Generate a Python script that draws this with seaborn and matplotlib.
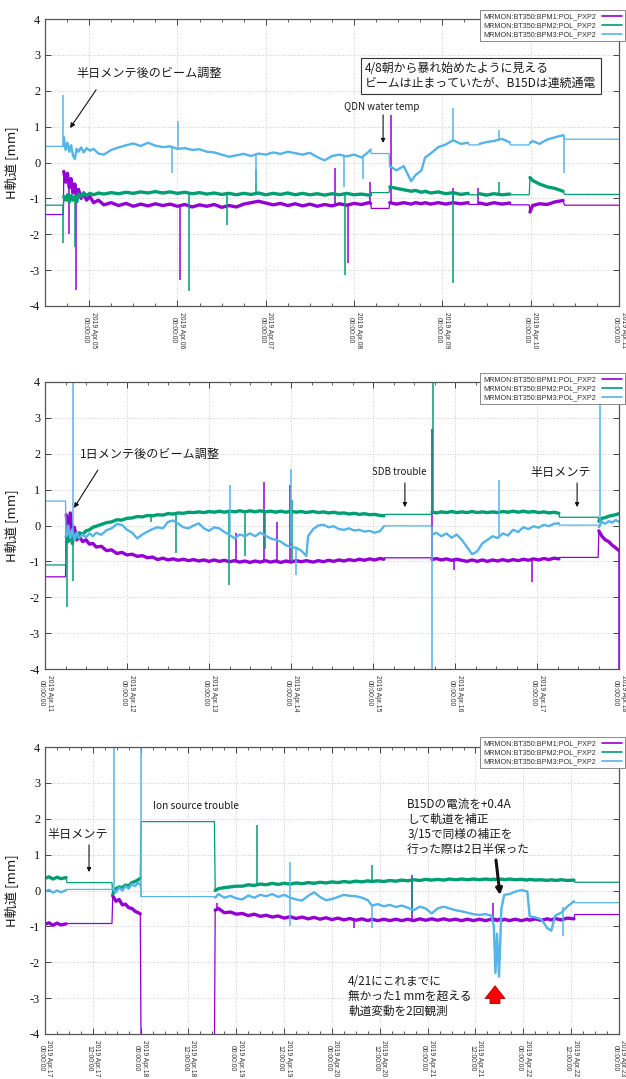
import numpy as np
import pandas as pd
import matplotlib
matplotlib.use("Agg")
import matplotlib.pyplot as plt
import matplotlib.dates as mdates
from matplotlib.lines import Line2D
import seaborn as sns

# ---------------- data ----------------
SERIES = ["MRMON:BT350:BPM1:POL_PXP2", "MRMON:BT350:BPM2:POL_PXP2", "MRMON:BT350:BPM3:POL_PXP2"]
COLORS = ["#9400d3", "#009e73", "#56b4e9"]

# Panel 1 : hours from 2019-04-04 12:00
p1_start, p1_end = "2019-04-04 12:00", "2019-04-11 00:00"
p1_hours = [0, 5.0, 5.1, 5.6, 6.1, 6.6, 7.1, 7.6, 8.1, 8.6, 9.1, 9.8, 10.5, 11.3, 12.2, 13.2, 14.5,
            16, 18, 20, 22, 24, 26, 28, 30, 32, 34, 36, 38, 40, 42, 44, 46, 48, 50, 52,
            54, 56, 58, 60, 62, 64, 66, 68, 70, 72, 74, 76, 78, 80, 82, 84, 86, 88,
            88.5, 88.7, 93.5, 93.7, 95.5, 97.5, 99.5, 100.7, 102.3, 103.3, 104.8, 106.9, 108.9, 110.9, 113, 115,
            115.2, 117.8, 118.1, 120, 122, 124.2, 126.3, 126.5, 131.6, 131.8, 132.5, 134.4, 136.5, 138.5, 140.8, 141.2, 156]
p1_bpm1 = [-1.45, -1.45, -0.25, -0.55, -0.3, -0.7, -0.45, -0.85, -0.6, -0.95, -0.75, -1.0, -0.85, -1.05, -0.95, -1.12, -1.05,
           -1.18, -1.12, -1.2, -1.14, -1.22, -1.16, -1.21, -1.15, -1.2, -1.16, -1.22, -1.17, -1.24, -1.18, -1.22, -1.17, -1.25, -1.2, -1.24,
           -1.16, -1.12, -1.08, -1.13, -1.18, -1.14, -1.2, -1.15, -1.21, -1.16, -1.22, -1.17, -1.21, -1.15, -1.19, -1.14, -1.17, -1.12,
           -1.14, -1.28, -1.28, -1.12, -1.16, -1.12, -1.16, -1.12, -1.15, -1.12, -1.16, -1.12, -1.16, -1.12, -1.15, -1.12,
           -1.17, -1.17, -1.13, -1.17, -1.12, -1.16, -1.13, -1.18, -1.18, -1.38, -1.2, -1.15, -1.17, -1.1, -1.06, -1.19, -1.19]
p1_bpm2 = [-1.19, -1.19, -0.95, -1.05, -0.9, -1.1, -0.92, -1.05, -0.95, -1.1, -0.88, -0.95, -0.85, -0.92, -0.86, -0.9, -0.85,
           -0.88, -0.84, -0.87, -0.83, -0.86, -0.82, -0.85, -0.81, -0.85, -0.82, -0.86, -0.83, -0.87, -0.84, -0.88, -0.85, -0.89, -0.86, -0.9,
           -0.86, -0.89, -0.85, -0.9, -0.86, -0.89, -0.85, -0.9, -0.86, -0.9, -0.87, -0.91, -0.87, -0.9, -0.86, -0.9, -0.88, -0.91,
           -0.9, -0.84, -0.84, -0.68, -0.72, -0.76, -0.8, -0.78, -0.83, -0.8, -0.85, -0.82, -0.87, -0.84, -0.89, -0.86,
           -0.9, -0.9, -0.87, -0.91, -0.87, -0.9, -0.88, -0.9, -0.9, -0.42, -0.5, -0.6, -0.68, -0.72, -0.8, -0.89, -0.89]
p1_bpm3 = [0.45, 0.45, 0.72, 0.35, 0.55, 0.3, 0.48, 0.2, 0.1, 0.38, 0.3, 0.42, 0.28, 0.4, 0.33, 0.38, 0.25,
           0.22, 0.35, 0.42, 0.48, 0.53, 0.46, 0.55, 0.47, 0.43, 0.45, 0.38, 0.4, 0.35, 0.37, 0.3, 0.28, 0.22, 0.16, 0.2,
           0.24, 0.18, 0.25, 0.22, 0.28, 0.24, 0.3, 0.26, 0.22, 0.27, 0.15, 0.06, 0.18, 0.22, 0.17, 0.22, 0.14, 0.3,
           0.36, 0.25, 0.25, -0.1, -0.22, -0.1, -0.52, -0.35, -0.22, 0.14, 0.25, 0.43, 0.5, 0.62, 0.52, 0.55,
           0.49, 0.49, 0.52, 0.57, 0.6, 0.66, 0.56, 0.49, 0.49, 0.55, 0.6, 0.52, 0.64, 0.7, 0.76, 0.65, 0.65]
p1_gaps = [(0, 5.0), (88.7, 93.5), (115.2, 117.8), (126.5, 131.6), (141.2, 156)]
# spikes: (hour, from, to)
p1_spk_bpm1 = [(6.5, -0.7, -2.0), (8.4, -0.9, -3.55), (36.6, -1.2, -3.27), (78.8, -1.17, -0.16),
               (82.4, -1.19, -2.8), (88.4, -1.14, -0.55), (94.1, -1.12, 1.32), (111.0, -1.12, -0.7), (117.6, -1.17, -0.72)]
p1_spk_bpm2 = [(4.9, -1.19, -2.25), (8.2, -1.0, -2.35), (39.2, -0.86, -3.57), (49.4, -0.86, -1.75),
               (57.4, -0.86, -0.2), (81.6, -0.87, -3.14), (111.0, -0.86, -3.35), (123.4, -0.88, -0.55)]
p1_spk_bpm3 = [(5.0, 0.45, 1.88), (34.4, 0.45, -0.3), (36.2, 0.4, 1.16), (57.4, 0.24, -0.6), (81.3, 0.2, -0.68),
               (86.4, 0.14, -0.45), (111.0, 0.62, 1.52), (123.4, 0.62, 0.9), (141.1, 0.76, -0.3)]

# Panel 2 : hours from 2019-04-11 00:00
p2_start, p2_end = "2019-04-11 00:00", "2019-04-18 00:00"
p2_hours = [0, 6.0, 6.2, 6.8, 7.4, 8.0, 8.6, 9.3, 10.0, 11, 12, 13, 14, 15, 16.5, 18, 19.5, 21, 22.5, 24,
            25.5, 27, 28.5, 30, 31.5, 33, 34.5, 36, 37.5, 39, 40.5, 42, 43.5, 45, 46.5, 48, 49.5, 51, 52.5, 54,
            55.5, 57, 58.5, 60, 61.5, 63, 64.5, 66, 67.5, 69, 70.5, 72, 73.5, 75, 76.5, 77, 78.5, 80, 81.5, 83,
            84.5, 86, 87.5, 89, 90.5, 92, 93.5, 95, 96.5, 98, 99.2, 99.4, 113.0, 113.3, 114.5, 116, 117.5, 119, 120.5, 122,
            123.5, 125, 126.5, 128, 129.5, 131, 132.5, 134, 135.5, 137, 138.5, 140, 141.5, 143, 144.5, 146, 147.5, 149, 150.4, 150.6,
            161.9, 162.1, 163, 164, 165, 166, 167, 168]
p2_bpm1 = [-1.43, -1.43, 0.3, -0.1, 0.35, -0.3, -0.05, -0.4, -0.3, -0.45, -0.4, -0.52, -0.5, -0.6, -0.58, -0.7, -0.68, -0.78, -0.75, -0.82,
           -0.8, -0.86, -0.84, -0.9, -0.88, -0.95, -0.91, -0.96, -0.93, -0.97, -0.94, -0.98, -0.95, -0.99, -0.96, -1.0, -0.96, -1.0, -0.97, -1.01,
           -0.98, -1.02, -0.99, -1.03, -0.99, -1.02, -0.98, -1.02, -0.99, -1.03, -0.99, -1.02, -0.98, -1.01, -0.98, -0.99, -1.02, -0.98, -1.01, -0.97,
           -1.0, -0.96, -0.99, -0.95, -0.98, -0.94, -0.97, -0.93, -0.96, -0.92, -0.94, -0.9, -0.9, -0.95, -0.92, -0.96, -0.93, -0.97, -0.94, -0.97,
           -1.0, -0.96, -1.0, -0.96, -1.0, -0.96, -0.99, -0.95, -0.99, -0.95, -0.98, -0.94, -0.97, -0.93, -0.96, -0.92, -0.95, -0.91, -0.93, -0.89,
           -0.89, -0.15, -0.3, -0.4, -0.45, -0.55, -0.62, -0.7]
p2_bpm2 = [-1.1, -1.1, -0.3, -0.45, -0.2, -0.5, -0.25, -0.35, -0.2, -0.25, -0.15, -0.12, -0.05, -0.02, 0.03, 0.08, 0.1, 0.16, 0.15, 0.2,
           0.21, 0.25, 0.24, 0.28, 0.27, 0.3, 0.29, 0.33, 0.32, 0.35, 0.34, 0.37, 0.36, 0.38, 0.36, 0.39, 0.37, 0.4, 0.37, 0.4,
           0.38, 0.41, 0.38, 0.41, 0.38, 0.41, 0.38, 0.4, 0.37, 0.4, 0.37, 0.4, 0.37, 0.39, 0.36, 0.37, 0.39, 0.36, 0.38, 0.35,
           0.37, 0.34, 0.35, 0.32, 0.34, 0.31, 0.33, 0.3, 0.31, 0.28, 0.27, 0.31, 0.31, 0.38, 0.35, 0.38, 0.36, 0.39, 0.36, 0.38,
           0.36, 0.39, 0.36, 0.38, 0.36, 0.38, 0.36, 0.39, 0.37, 0.4, 0.37, 0.4, 0.37, 0.39, 0.36, 0.38, 0.35, 0.37, 0.34, 0.23,
           0.23, 0.12, 0.2, 0.22, 0.26, 0.28, 0.3, 0.33]
p2_bpm3 = [0.68, 0.68, -0.3, 0.0, -0.35, -0.1, -0.4, -0.2, -0.35, -0.25, -0.33, -0.22, -0.3, -0.2, -0.26, -0.13, -0.08, 0.04, 0.02, -0.12,
           -0.2, -0.36, -0.25, -0.17, -0.1, -0.05, -0.08, 0.1, 0.14, 0.05, -0.05, -0.08, 0.0, 0.06, -0.08, -0.15, -0.05, -0.08, -0.18, -0.26,
           -0.36, -0.25, -0.3, -0.22, -0.3, -0.2, -0.28, -0.36, -0.4, -0.45, -0.55, -0.6, -0.62, -0.7, -0.85, -0.3, -0.1, 0.0, 0.02, -0.05,
           -0.02, -0.1, -0.12, -0.08, -0.14, -0.12, -0.17, -0.15, -0.2, -0.16, -0.02, -0.01, -0.01, -0.26, -0.2, -0.3, -0.22, -0.34, -0.25, -0.4,
           -0.6, -0.8, -0.72, -0.5, -0.4, -0.3, -0.35, -0.22, -0.28, -0.12, -0.18, -0.05, -0.1, -0.02, -0.06, 0.02, -0.02, 0.05, 0.06, 0.01,
           0.01, -0.05, 0.1, 0.05, 0.12, 0.08, 0.15, 0.1]
p2_gaps = [(0, 6.0), (99.4, 113.0), (150.6, 161.9)]
p2_spk_bpm1 = [(56.0, -0.98, -0.2), (64.0, -0.98, 1.22), (67.9, -0.99, 0.1), (71.7, -1.0, 1.13), (113.4, -0.9, 2.7),
               (119.6, -0.97, -1.25), (142.6, -0.95, -1.57), (167.9, -0.7, -4.3)]
p2_spk_bpm2 = [(6.3, -0.3, -2.26), (8.3, -0.4, -1.55), (31.0, 0.27, 0.1), (38.2, 0.33, -0.78), (53.9, 0.38, -1.66),
               (58.5, 0.39, -0.85), (64.3, 0.4, -0.65), (72.3, -1.0, 0.71), (113.6, 0.35, 4.3)]
p2_spk_bpm3 = [(8.2, -0.1, 4.3), (54.1, -0.2, 1.13), (72.0, -0.5, 1.57), (73.6, -0.6, -1.38), (113.2, -0.01, -4.3),
               (133.0, -0.3, 1.27), (162.3, 0.0, 4.3)]

# Panel 3 : hours from 2019-04-17 00:00
p3_start, p3_end = "2019-04-17 00:00", "2019-04-23 00:00"
p3_hours = [0, 1, 2, 3, 4, 5.3, 5.5, 16.8, 17.0, 17.8, 18.6, 19.4, 20.2, 21, 21.8, 22.6, 23.4, 23.9, 24.1, 42.5,
            42.7, 43.5, 45, 46.5, 48, 49.5, 51, 52.5, 54, 55.5, 57, 58.5, 60, 61.5, 63, 64.5, 66, 67.5, 69, 70.5,
            72, 73.5, 75, 76.5, 78, 79.5, 81, 82, 83.5, 85, 86.5, 88, 89.5, 91, 92.5, 94, 95.5, 97, 98.5, 100,
            101.5, 103, 104.5, 106, 107.5, 109, 110.5, 112, 112.6, 113.0, 113.4, 113.9, 114.5, 115.2, 116.5, 118, 119.5, 121, 121.6, 123,
            124.5, 126, 127, 128, 129.5, 131, 132.7, 132.9, 144]
p3_bpm1 = [-0.94, -0.9, -0.97, -0.91, -0.96, -0.93, -0.92, -0.92, -0.15, -0.3, -0.25, -0.4, -0.38, -0.48, -0.5, -0.58, -0.62, -0.65, -4.5, -4.5,
           -0.55, -0.5, -0.62, -0.6, -0.66, -0.64, -0.7, -0.66, -0.72, -0.69, -0.74, -0.71, -0.77, -0.73, -0.78, -0.74, -0.79, -0.75, -0.8, -0.76,
           -0.81, -0.77, -0.82, -0.78, -0.83, -0.79, -0.84, -0.8, -0.84, -0.8, -0.84, -0.8, -0.84, -0.8, -0.84, -0.79, -0.83, -0.79, -0.83, -0.79,
           -0.83, -0.8, -0.84, -0.8, -0.84, -0.8, -0.84, -0.8, -0.83, -0.8, -0.84, -0.8, -0.84, -0.8, -0.84, -0.8, -0.84, -0.8, -0.83, -0.79,
           -0.83, -0.79, -0.82, -0.78, -0.82, -0.77, -0.79, -0.67, -0.67]
p3_bpm2 = [0.34, 0.38, 0.32, 0.37, 0.33, 0.36, 0.22, 0.22, -0.1, 0.05, 0.1, 0.08, 0.15, 0.13, 0.22, 0.25, 0.3, 0.34, 1.92, 1.92,
           0.0, 0.05, 0.08, 0.1, 0.12, 0.12, 0.16, 0.14, 0.18, 0.16, 0.2, 0.17, 0.2, 0.18, 0.21, 0.19, 0.22, 0.2, 0.23, 0.21,
           0.24, 0.22, 0.25, 0.23, 0.26, 0.24, 0.27, 0.25, 0.27, 0.25, 0.28, 0.26, 0.29, 0.27, 0.3, 0.28, 0.31, 0.29, 0.31, 0.29,
           0.32, 0.3, 0.32, 0.3, 0.32, 0.3, 0.32, 0.3, 0.32, 0.3, 0.32, 0.3, 0.32, 0.3, 0.32, 0.3, 0.31, 0.29, 0.31, 0.29,
           0.3, 0.28, 0.3, 0.28, 0.3, 0.28, 0.29, 0.23, 0.23]
p3_bpm3 = [-0.03, 0.02, -0.06, 0.0, -0.05, 0.01, 0.03, 0.03, 0.05, -0.05, 0.08, 0.0, 0.12, 0.05, 0.18, 0.12, 0.22, 0.15, -0.17, -0.17,
           -0.2, -0.1, -0.2, -0.15, -0.22, -0.25, -0.14, -0.2, -0.12, -0.16, -0.1, -0.18, -0.12, -0.2, -0.25, -0.28, -0.15, -0.05, -0.18, -0.27,
           -0.24, -0.18, -0.12, -0.15, -0.16, -0.2, -0.27, -0.42, -0.38, -0.44, -0.4, -0.46, -0.42, -0.48, -0.55, -0.45, -0.5, -0.64, -0.5, -0.45,
           -0.5, -0.55, -0.58, -0.62, -0.66, -0.68, -0.66, -0.7, -1.0, -2.3, -1.2, -2.4, -0.5, -0.12, -0.1, -0.03, 0.01, -0.03, -0.72, -0.75,
           -0.8, -1.05, -1.12, -0.7, -0.62, -0.45, -0.3, -0.34, -0.34]
p3_gaps = [(5.5, 16.8), (24.1, 42.5), (132.9, 144)]
p3_spk_bpm1 = [(43.2, -0.5, -0.35), (77.5, -0.8, -1.05), (92.1, -0.8, 0.43), (112.4, -0.8, -0.35)]
p3_spk_bpm2 = [(53.2, 0.16, 1.82), (82.0, 0.25, 0.71), (92.1, 0.28, -0.64)]
p3_spk_bpm3 = [(17.4, 0.05, 4.3), (24.0, -0.17, 4.3), (61.5, -1.0, 0.8), (82.0, -0.42, -1.05), (130.0, -0.45, -1.28)]

# ---------------- style ----------------
sns.set_theme(style="white")
plt.rcParams["font.family"] = ["Noto Sans CJK JP", "DejaVu Sans"]
plt.rcParams["axes.unicode_minus"] = False

W, H = 626, 1079
fig = plt.figure(figsize=(W / 100, H / 100), dpi=100)

LWS = [2.4, 2.4, 1.7]
TXT = "#1a1a1a"


def make_ax(top_px):
    return fig.add_axes([45 / W, 1 - (top_px + 287) / H, 574 / W, 287 / H])


def draw_panel(ax, start, end, hours, vals, gaps, spikes, major, minor, legend_top_px):
    t0 = pd.Timestamp(start)
    hrs = np.asarray(hours, float)
    times = t0 + pd.to_timedelta(hrs, unit="h")
    in_gap = np.zeros(len(hrs), bool)
    for g0, g1 in gaps:
        in_gap |= (hrs >= g0) & (hrs <= g1)
    seg = np.searchsorted(sorted(g[0] for g in gaps), hrs, side="right")
    for color, v, sp, lw in zip(COLORS, vals, spikes, LWS):
        df = pd.DataFrame({"time": times, "value": v, "seg": seg, "gap": in_gap})
        sns.lineplot(data=df, x="time", y="value", color=color, lw=0.9,
                     estimator=None, sort=False, ax=ax, legend=False)
        sns.lineplot(data=df[~df["gap"]], x="time", y="value", units="seg", color=color, lw=lw,
                     estimator=None, sort=False, ax=ax, legend=False)
        st = t0 + pd.to_timedelta([s[0] for s in sp], unit="h")
        ax.vlines(st, [s[1] for s in sp], [s[2] for s in sp], colors=color, lw=1.1)

    ax.set_xlim(t0, pd.Timestamp(end))
    ax.set_ylim(-4, 4)
    ax.set_yticks(range(-4, 5))
    ax.xaxis.set_major_locator(major)
    ax.xaxis.set_minor_locator(minor)
    ax.xaxis.set_major_formatter(mdates.DateFormatter("%Y %b.%d\n%H:%M:%S"))
    ax.set_xlabel("")
    ax.set_ylabel("H軌道 [mm]", fontsize=9.5, color=TXT)
    ax.yaxis.set_label_coords(-0.045, 0.5)
    ax.tick_params(axis="both", which="both", direction="in", top=True, right=True,
                   bottom=True, left=True, color="#444444")
    ax.tick_params(which="major", length=4, width=0.7)
    ax.tick_params(which="minor", length=2, width=0.6)
    ax.tick_params(axis="x", which="major", labelsize=4.9, labelcolor="#333333",
                   labelrotation=-90, pad=4.5, labelfontfamily="Liberation Sans")
    ax.tick_params(axis="y", labelsize=8.8, labelcolor="#111111", pad=3.5,
                   labelfontfamily="Liberation Serif")
    ax.grid(True, which="major", ls=(0, (1, 2)), color="#bdbdbd", lw=0.6)
    for sp_ in ax.spines.values():
        sp_.set_color("#555555")
        sp_.set_linewidth(0.9)

    handles = [Line2D([], [], color=c, lw=1.2) for c in COLORS]
    leg = ax.legend(handles, SERIES, loc="upper right",
                    bbox_to_anchor=(625 / W, 1 - legend_top_px / H), bbox_transform=fig.transFigure,
                    fontsize=5.2, markerfirst=False, frameon=True, fancybox=False,
                    edgecolor="#777777", framealpha=1, borderpad=0.45, labelspacing=0.25,
                    handlelength=2.8, handletextpad=0.8, borderaxespad=0)
    leg.get_frame().set_linewidth(0.6)
    for t in leg.get_texts():
        t.set_family("Liberation Sans")
        t.set_color("#333333")


def arrow(ax, xy, xytext, lw=0.8, ms=7):
    ax.annotate("", xy=xy, xytext=xytext, xycoords="axes fraction", textcoords="axes fraction",
                arrowprops=dict(arrowstyle="-|>", color="#111111", lw=lw, mutation_scale=ms,
                                shrinkA=0, shrinkB=0))


JP = 8.7

# ---------- Panel 1 ----------
ax1 = make_ax(19)
draw_panel(ax1, p1_start, p1_end, p1_hours, [p1_bpm1, p1_bpm2, p1_bpm3], p1_gaps,
           [p1_spk_bpm1, p1_spk_bpm2, p1_spk_bpm3],
           mdates.DayLocator(), mdates.HourLocator(byhour=[0, 6, 12, 18]), 10)
ax1.text(0.054, 0.812, "半日メンテ後のビーム調整", transform=ax1.transAxes, fontsize=JP,
         ha="left", va="center", color=TXT)
arrow(ax1, (0.0436, 0.620), (0.089, 0.753))
ax1.text(0.558, 0.801, "4/8朝から暴れ始めたように見える\nビームは止まっていたが、B15Dは連続通電",
         transform=ax1.transAxes, fontsize=8.6, ha="left", va="center", color=TXT,
         bbox=dict(boxstyle="square,pad=0.35", fc="white", ec="#333333", lw=0.8))
ax1.text(0.587, 0.693, "QDN water temp", transform=ax1.transAxes, fontsize=7,
         ha="center", va="center", color=TXT)
arrow(ax1, (0.589, 0.568), (0.589, 0.666), ms=6)

# ---------- Panel 2 ----------
ax2 = make_ax(382)
draw_panel(ax2, p2_start, p2_end, p2_hours, [p2_bpm1, p2_bpm2, p2_bpm3], p2_gaps,
           [p2_spk_bpm1, p2_spk_bpm2, p2_spk_bpm3],
           mdates.DayLocator(), mdates.HourLocator(byhour=[0, 6, 12, 18]), 373)
ax2.text(0.061, 0.746, "1日メンテ後のビーム調整", transform=ax2.transAxes, fontsize=JP,
         ha="left", va="center", color=TXT)
arrow(ax2, (0.0505, 0.561), (0.092, 0.693))
ax2.text(0.618, 0.686, "SDB trouble", transform=ax2.transAxes, fontsize=7,
         ha="center", va="center", color=TXT)
arrow(ax2, (0.627, 0.564), (0.627, 0.648), ms=6)
ax2.text(0.899, 0.686, "半日メンテ", transform=ax2.transAxes, fontsize=JP,
         ha="center", va="center", color=TXT)
arrow(ax2, (0.927, 0.564), (0.927, 0.648), ms=6)

# ---------- Panel 3 ----------
ax3 = make_ax(747)
draw_panel(ax3, p3_start, p3_end, p3_hours, [p3_bpm1, p3_bpm2, p3_bpm3], p3_gaps,
           [p3_spk_bpm1, p3_spk_bpm2, p3_spk_bpm3],
           mdates.HourLocator(byhour=[0, 12]), mdates.HourLocator(byhour=range(0, 24, 3)), 737)
ax3.text(0.0575, 0.696, "半日メンテ", transform=ax3.transAxes, fontsize=JP,
         ha="center", va="center", color=TXT)
arrow(ax3, (0.0767, 0.564), (0.0767, 0.659), ms=6)
ax3.text(0.188, 0.794, "Ion source trouble", transform=ax3.transAxes, fontsize=7.3,
         ha="left", va="center", color=TXT)
ax3.text(0.631, 0.721, "B15Dの電流を+0.4A\nして軌道を補正\n3/15で同様の補正を\n行った際は2日半保った",
         transform=ax3.transAxes, fontsize=8.4, ha="left", va="center", color=TXT, linespacing=1.2)
arrow(ax3, (0.7927, 0.484), (0.7857, 0.606), lw=2.2, ms=9)
ax3.text(0.528, 0.132, "4/21にこれまでに\n無かった1 mmを超える\n軌道変動を2回観測",
         transform=ax3.transAxes, fontsize=8.4, ha="left", va="center", color=TXT, linespacing=1.2)
ax3.annotate("", xy=(0.784, 0.168), xytext=(0.784, 0.106), xycoords="axes fraction",
             textcoords="axes fraction",
             arrowprops=dict(arrowstyle="simple,head_length=0.7,head_width=1.1,tail_width=0.55",
                             fc="#ff0000", ec="#b00000", lw=0.6, mutation_scale=13,
                             shrinkA=0, shrinkB=0))

fig.savefig("out.png", dpi=100)
